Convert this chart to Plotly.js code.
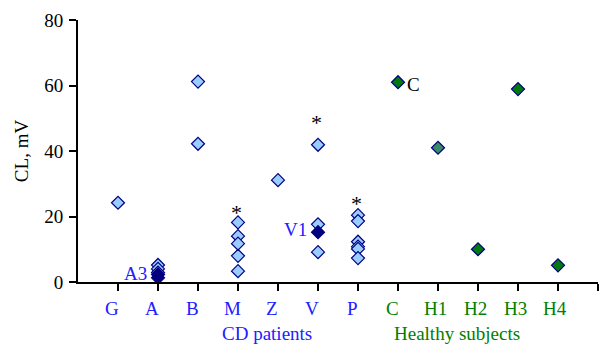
<!DOCTYPE html>
<html>
<head>
<meta charset="utf-8">
<script src="https://cdn.plot.ly/plotly-3.0.1.min.js"></script>
<style>html,body{margin:0;padding:0;background:#fff;}#chart{width:599px;height:344px;}</style>
</head>
<body>
<div id="chart"></div>
<script>
// Category labels along the x axis
const categories = ['G','A','B','M','Z','V','P','C','H1','H2','H3','H4'];
const cdCategories = ['G','A','B','M','Z','V','P'];
const healthyCategories = ['C','H1','H2','H3','H4'];

// CD patients (light diamonds), values in mV
const valsG = [24.2];
const valsA = [5.2, 4.0, 2.9];
const valsB = [61.2, 42.2];
const valsM = [18.2, 14.0, 11.7, 8.0, 3.3];
const valsZ = [31.1];
const valsV = [41.9, 17.6, 9.1];
const valsP = [20.4, 18.6, 12.3, 10.8, 10.1, 7.3];

// Highlighted patients (dark diamonds)
const highlightCat = ['A', 'A', 'V'];
const highlightVal = [2.3, 1.3, 15.2];

// Healthy subjects
const healthyVal = [61.0, 41.0, 10.0, 58.9, 5.1];

// Asterisks (significance marks)
const starCat = ['M', 'V', 'P'];
const starVal = [22.0, 49.7, 25.0];

const pos = c => categories.indexOf(c) + 1;

const cdGroups = [valsG, valsA, valsB, valsM, valsZ, valsV, valsP];
const lx = [], ly = [];
cdGroups.forEach((g, i) => g.forEach(v => { lx.push(pos(cdCategories[i])); ly.push(v); }));

const FONT = 'Liberation Serif, Times New Roman, serif';
const NAVY = '#000080';
const FS = 19;

const traces = [
  { x: lx, y: ly, type: 'scatter', mode: 'markers', cliponaxis: false,
    marker: { symbol: 'diamond', size: 10, color: '#99ccff', line: { color: NAVY, width: 1.2 } } },
  { x: highlightCat.map(pos), y: highlightVal, type: 'scatter', mode: 'markers', cliponaxis: false,
    marker: { symbol: 'diamond', size: 10, color: NAVY, line: { color: NAVY, width: 1.2 } } },
  { x: healthyCategories.map(pos), y: healthyVal, type: 'scatter', mode: 'markers', cliponaxis: false,
    marker: { symbol: 'diamond', size: 10,
      color: healthyCategories.map(c => c === 'H1' ? '#3a8a64' : '#007a10'),
      line: { color: NAVY, width: 1.2 } } }
];

const annotations = [];
categories.forEach((c, i) => {
  const healthy = healthyCategories.includes(c);
  annotations.push({ x: i + 1, y: 0, xref: 'x', yref: 'paper', text: c, showarrow: false,
    xanchor: 'center', yanchor: 'middle', yshift: -26, xshift: c.length > 1 ? -3 : -6,
    font: { family: FONT, size: FS, color: healthy ? '#008000' : '#2020ff' } });
});
annotations.push({ x: 4.72, y: 0, xref: 'x', yref: 'paper', text: 'CD patients', showarrow: false,
  xanchor: 'center', yanchor: 'middle', yshift: -51, font: { family: FONT, size: FS, color: '#2020ff' } });
annotations.push({ x: 9.47, y: 0, xref: 'x', yref: 'paper', text: 'Healthy subjects', showarrow: false,
  xanchor: 'center', yanchor: 'middle', yshift: -51, font: { family: FONT, size: FS, color: '#008000' } });
starCat.forEach((c, i) => {
  annotations.push({ x: pos(c), y: starVal[i], xref: 'x', yref: 'y', text: '*', showarrow: false,
    xanchor: 'center', yanchor: 'middle', yshift: -3, xshift: -2,
    font: { family: FONT, size: 22, color: '#000' } });
});
annotations.push({ x: pos('C'), y: 61.0, xref: 'x', yref: 'y', text: 'C', showarrow: false,
  xanchor: 'left', yanchor: 'middle', xshift: 7, yshift: -2, font: { family: FONT, size: FS, color: '#000' } });
annotations.push({ x: pos('V'), y: 15.2, xref: 'x', yref: 'y', text: 'V1', showarrow: false,
  xanchor: 'right', yanchor: 'middle', xshift: -9, yshift: 3, font: { family: FONT, size: FS, color: '#2020ff' } });
annotations.push({ x: pos('A'), y: 2.3, xref: 'x', yref: 'y', text: 'A3', showarrow: false,
  xanchor: 'right', yanchor: 'middle', xshift: -9, yshift: 1, font: { family: FONT, size: FS, color: '#2020ff' } });

const layout = {
  width: 599, height: 344,
  margin: { l: 78, r: 1, t: 20, b: 62 },
  paper_bgcolor: '#fff', plot_bgcolor: '#fff',
  showlegend: false,
  font: { family: FONT, size: FS, color: '#000' },
  xaxis: { range: [0, 13], showgrid: false, zeroline: false, showline: true, linecolor: '#000', linewidth: 2,
    ticks: 'outside', ticklen: 7, tickwidth: 2, tickcolor: '#000',
    tickvals: [1,2,3,4,5,6,7,8,9,10,11,12,13], showticklabels: false, fixedrange: true },
  yaxis: { range: [0, 80], showgrid: false, zeroline: false, showline: true, linecolor: '#000', linewidth: 2,
    ticks: 'outside', ticklen: 7, tickwidth: 2, tickcolor: '#000',
    tickvals: [0, 20, 40, 60, 80], ticklabelstandoff: 2,
    tickfont: { family: FONT, size: FS, color: '#000' },
    title: { text: 'CL, mV', font: { family: FONT, size: FS, color: '#000' }, standoff: 11 } },
  annotations: annotations
};

Plotly.newPlot('chart', traces, layout, { displayModeBar: false, staticPlot: true });
</script>
</body>
</html>
